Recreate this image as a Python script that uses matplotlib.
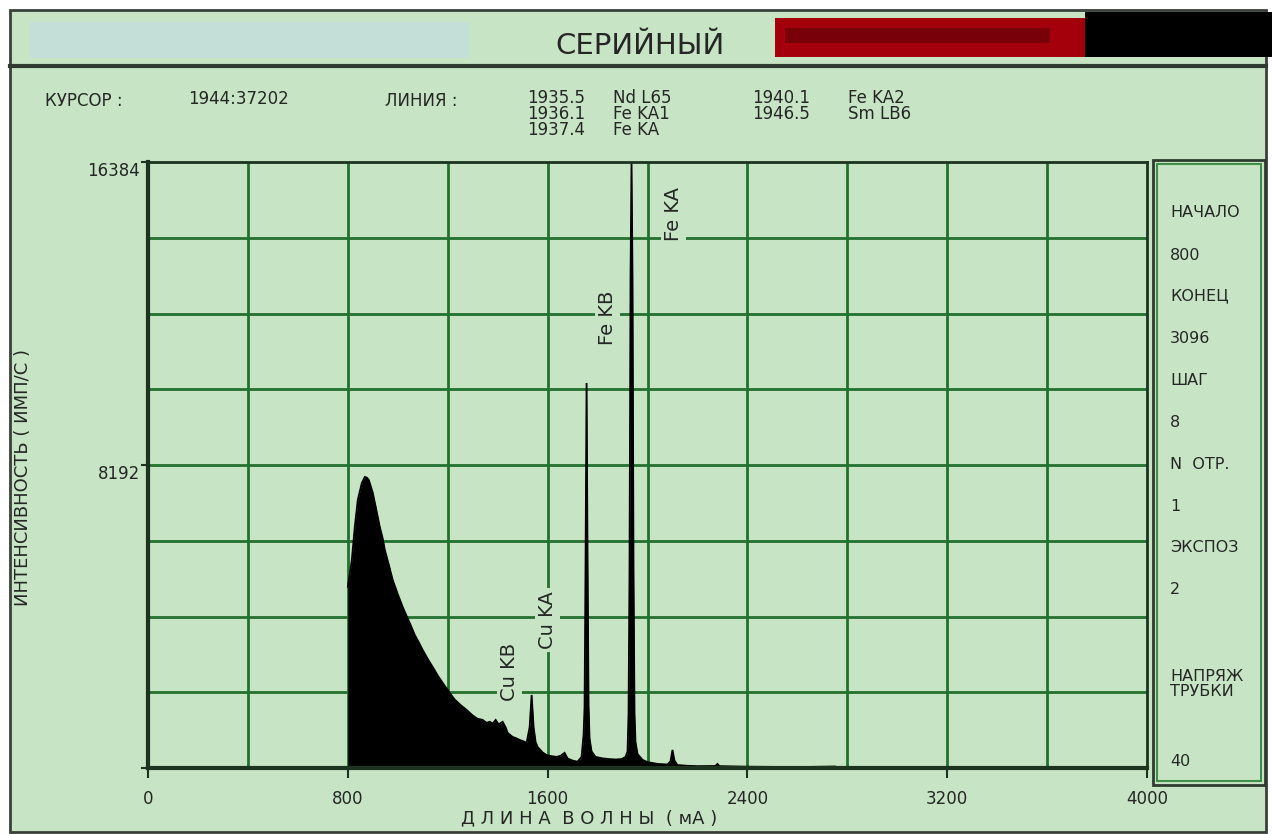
import matplotlib
matplotlib.use("Agg")
import matplotlib.pyplot as plt
from matplotlib.patches import Rectangle
import matplotlib.font_manager as fm

# ---------------- data ----------------
wavelength = [800, 808, 816, 828, 840, 856, 868, 876, 884, 900, 912, 928, 940, 948,
              964, 980, 1000, 1020, 1036, 1048, 1068, 1084, 1100, 1120, 1140, 1160,
              1180, 1208, 1228, 1252, 1276, 1300, 1320, 1340, 1356, 1368, 1380, 1392,
              1404, 1420, 1432, 1440, 1460, 1476, 1488, 1504, 1516, 1528, 1536, 1544,
              1552, 1560, 1580, 1596, 1616, 1636, 1652, 1668, 1680, 1700, 1720, 1736,
              1744, 1748, 1752, 1756, 1760, 1764, 1768, 1776, 1792, 1820, 1848, 1872,
              1896, 1912, 1920, 1924, 1928, 1932, 1936, 1940, 1944, 1948, 1952, 1960,
              1980, 2000, 2040, 2080, 2092, 2100, 2108, 2120, 2160, 2200, 2272, 2280,
              2288, 2400, 2600, 2752, 2760, 3000, 3096]
intensity = [4900, 5250, 5620, 6520, 7250, 7700, 7870, 7850, 7790, 7440, 7050, 6520, 6200, 5900,
             5500, 5080, 4700, 4350, 4100, 3920, 3600, 3400, 3190, 2950, 2730, 2500,
             2300, 2030, 1850, 1700, 1570, 1420, 1330, 1300, 1220, 1250, 1200, 1300,
             1180, 1250, 1100, 950, 840, 800, 760, 720, 680, 1100, 1975, 1100,
             700, 570, 420, 350, 320, 300, 330, 410, 260, 200, 170, 300,
             900, 1650, 5650, 10410, 5650, 1700, 800, 450, 300, 260, 240, 230,
             240, 300, 450, 1460, 5330, 13250, 16384, 13250, 5330, 1460, 700, 380,
             220, 160, 110, 95, 180, 490, 200, 80, 60, 50, 55, 110,
             50, 35, 25, 40, 20, 15, 10]

x_ticks = [0, 800, 1600, 2400, 3200, 4000]
y_ticks = [0, 8192, 16384]
y_tick_labels = ["", "8192", "16384"]
x_grid = [400, 800, 1200, 1600, 2000, 2400, 2800, 3200, 3600]
y_grid = [2048, 4096, 6144, 8192, 10240, 12288, 14336]

peak_names = ["Cu KB", "Cu KA", "Fe KB", "Fe KA"]
peak_label_x = [1448, 1600, 1840, 2104]
peak_label_y = [2600, 4000, 12170, 14980]

title = "СЕРИЙНЫЙ"
cursor_label = "КУРСОР :"
cursor_value = "1944:37202"
line_label = "ЛИНИЯ :"
line_wl_1 = ["1935.5", "1936.1", "1937.4"]
line_el_1 = ["Nd L65", "Fe KA1", "Fe KA"]
line_wl_2 = ["1940.1", "1946.5"]
line_el_2 = ["Fe KA2", "Sm LB6"]

panel_texts = ["НАЧАЛО", "800", "КОНЕЦ", "3096", "ШАГ", "8", "N  ОТР.", "1",
               "ЭКСПОЗ", "2", "НАПРЯЖ\nТРУБКИ", "40"]
panel_y = [212, 255, 296, 338, 380, 422, 464, 506, 548, 590, 684, 761]

y_label = "ИНТЕНСИВНОСТЬ ( ИМП/С )"
x_label = "Д Л И Н А  В О Л Н Ы  ( мА )"

# ---------------- style ----------------
BG = "#c7e5c5"
GRID = "#24702f"
AXC = "#1c3320"
TXT = "#262626"


def has_font(name):
    try:
        fm.findfont(fm.FontProperties(family=name), fallback_to_default=False)
        return True
    except Exception:
        return False


NARROW = "Liberation Sans Narrow" if has_font("Liberation Sans Narrow") else "DejaVu Sans"
plt.rcParams["font.family"] = ["DejaVu Sans"]

W, H = 1272, 834
fig = plt.figure(figsize=(W / 100, H / 100), dpi=100)
fig.patch.set_facecolor("white")

# background / chrome axes in pixel coordinates
bg = fig.add_axes([0, 0, 1, 1], zorder=0)
bg.set_xlim(0, W)
bg.set_ylim(H, 0)
bg.axis("off")

bg.add_patch(Rectangle((10, 10), 1256, 822, facecolor=BG, edgecolor="#3a403a", lw=2))
bg.add_patch(Rectangle((30, 22), 440, 36, facecolor="#c3dce6", edgecolor="none", alpha=0.6))
bg.add_patch(Rectangle((775, 18), 310, 39, facecolor="#a3000b", edgecolor="none"))
bg.add_patch(Rectangle((785, 28), 265, 15, facecolor="#5c0008", edgecolor="none", alpha=0.6))
bg.add_patch(Rectangle((1085, 12), 187, 45, facecolor="black", edgecolor="none"))
bg.plot([10, 1266], [66, 66], color="#2f3a30", lw=3)

bg.text(640, 46, title, ha="center", va="center", fontsize=21, family=NARROW, color=TXT)

info_fs = 12
bg.text(45, 101, cursor_label, ha="left", va="center", fontsize=info_fs, family=NARROW, color=TXT)
bg.text(188, 99, cursor_value, ha="left", va="center", fontsize=info_fs, family=NARROW, color=TXT)
bg.text(385, 101, line_label, ha="left", va="center", fontsize=info_fs, family=NARROW, color=TXT)
for i, (w, e) in enumerate(zip(line_wl_1, line_el_1)):
    bg.text(527, 98 + 16 * i, w, ha="left", va="center", fontsize=info_fs, family=NARROW, color=TXT)
    bg.text(613, 98 + 16 * i, e, ha="left", va="center", fontsize=info_fs, family=NARROW, color=TXT)
for i, (w, e) in enumerate(zip(line_wl_2, line_el_2)):
    bg.text(752, 98 + 16 * i, w, ha="left", va="center", fontsize=info_fs, family=NARROW, color=TXT)
    bg.text(848, 98 + 16 * i, e, ha="left", va="center", fontsize=info_fs, family=NARROW, color=TXT)

# right info panel
bg.add_patch(Rectangle((1153, 160), 112, 625, facecolor=BG, edgecolor="#2f3a30", lw=2))
bg.add_patch(Rectangle((1157, 164), 104, 617, facecolor="none", edgecolor="#3f8f4a", lw=1.5))
for t, yy in zip(panel_texts, panel_y):
    bg.text(1170, yy, t, ha="left", va="center", fontsize=11.5, color=TXT, linespacing=1.0)

# ---------------- main plot ----------------
ax = fig.add_axes([148 / W, 66 / H, 999 / W, 606 / H], zorder=1)
ax.set_facecolor(BG)
ax.set_xlim(0, 4000)
ax.set_ylim(0, 16384)

for gx in x_grid:
    ax.axvline(gx, color=GRID, lw=2, zorder=1)
for gy in y_grid:
    ax.axhline(gy, color=GRID, lw=2, zorder=1)

ax.fill_between(wavelength, intensity, 0, color="black", lw=0, zorder=2)
ax.plot(wavelength, intensity, color="black", lw=1.3, zorder=2, solid_joinstyle="miter")

for name, px, py in zip(peak_names, peak_label_x, peak_label_y):
    ax.text(px, py, name, rotation=90, ha="center", va="center", fontsize=14,
            color=TXT, zorder=3,
            bbox=dict(boxstyle="square,pad=0.15", facecolor=BG, edgecolor="none"))

ax.set_xticks(x_ticks)
ax.set_yticks(y_ticks)
ax.set_xticklabels([str(v) for v in x_ticks], family=NARROW, fontsize=12, color=TXT)
ax.set_yticklabels(y_tick_labels, family=NARROW, fontsize=12, color=TXT)
ax.tick_params(axis="x", direction="out", length=7, width=1.5, color=AXC, pad=9)
ax.tick_params(axis="y", direction="out", length=5, width=1.5, color=AXC, pad=1)
for lbl in ax.get_yticklabels():
    lbl.set_va("top")

for side in ["left", "bottom"]:
    ax.spines[side].set_color(AXC)
    ax.spines[side].set_linewidth(3)
for side in ["top", "right"]:
    ax.spines[side].set_color(AXC)
    ax.spines[side].set_linewidth(2)

ax.set_ylabel(y_label, fontsize=13, color=TXT)
ax.yaxis.set_label_coords(-0.116, 0.48)
ax.set_xlabel(x_label, fontsize=13, color=TXT)
ax.xaxis.set_label_coords(0.4414, -0.069)

fig.savefig("out.png", dpi=100, facecolor=fig.get_facecolor())
